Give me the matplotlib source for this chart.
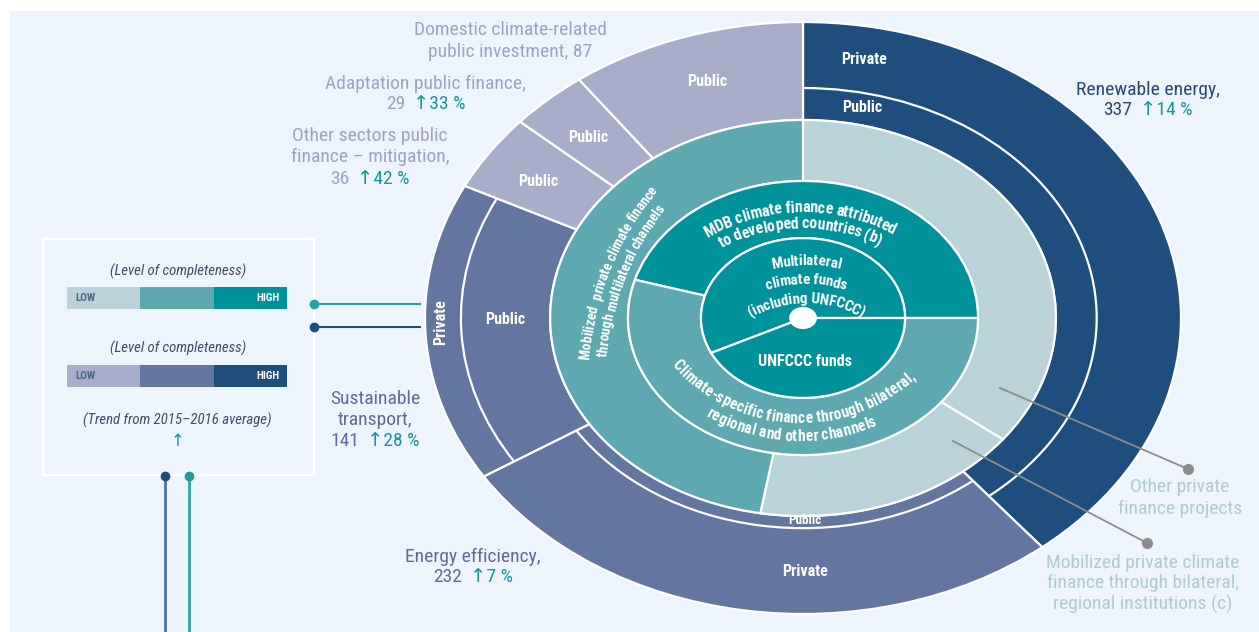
import numpy as np
import matplotlib
matplotlib.use("Agg")
import matplotlib.pyplot as plt
from matplotlib.patches import Rectangle, Arc, Ellipse
from matplotlib.font_manager import FontProperties, findfont, get_font


# Values (USD billion, trend from 2015-2016 average)
sectors = ["Renewable energy", "Energy efficiency", "Sustainable transport",
           "Other sectors public finance \u2013 mitigation", "Adaptation public finance",
           "Domestic climate-related public investment"]
sector_values = [337, 232, 141, 36, 29, 87]
sector_trend = ["14 %", "7 %", "28 %", "42 %", "33 %", None]

# middle ring: private finance channels (share of ring, %)
channel_labels = ["Other private finance projects",
                  "Mobilized private climate finance through bilateral, regional institutions (c)",
                  "Mobilized private climate finance through multilateral channels"]
channel_shares = [35.5, 17.2, 47.3]

# inner ring: international public finance (share of ring, %)
public_labels = ["MDB climate finance attributed to developed countries (b)",
                 "Climate-specific finance through bilateral, regional and other channels"]
public_shares = [45.5, 54.5]

# core: multilateral climate funds (share, %)
fund_labels = ["Multilateral climate funds (including UNFCCC)", "UNFCCC funds"]
fund_shares = [57.2, 42.8]


# colours
NAVY = "#1F4E7E"
SLATE = "#63769F"
LAV = "#A8AEC9"
LTEAL = "#B9D3D8"
MTEAL = "#5EA8AF"
DTEAL = "#00929A"
BG = "#EDF4FC"
TEAL_TXT = "#16979C"
sector_colors = [NAVY, SLATE, SLATE, LAV, LAV, LAV]
sector_txt = ["#2A4872", "#5D6C98", "#5D6C98", "#9DA3C1", "#9DA3C1", "#9DA3C1"]


def pick_font(names):
    for n in names:
        try:
            findfont(FontProperties(family=n), fallback_to_default=False)
            return n
        except ValueError:
            continue
    return "DejaVu Sans"


FONT = pick_font(["Liberation Sans Narrow", "Roboto Condensed", "Open Sans Condensed", "Lato"])
FAM = [FONT, "DejaVu Sans"]

W, H, DPI = 1259, 632, 100
CX, CY, RX, RY = 803, 318, 378, 296   # ellipse of the donut, pixels
PAD = 1.02

fig = plt.figure(figsize=(W / DPI, H / DPI), dpi=DPI, facecolor="white")
renderer = fig.canvas.get_renderer()

# background axes (pixel coords)
bg = fig.add_axes([0, 0, 1, 1])
bg.set_xlim(0, W)
bg.set_ylim(H, 0)
bg.set_axis_off()
bg.add_patch(Rectangle((10, 11), W - 10, H - 11, color=BG, lw=0))





# donut axes, stretched so circles become the ellipse
pax = fig.add_axes([(CX - RX * PAD) / W, (H - CY - RY * PAD) / H, 2 * RX * PAD / W, 2 * RY * PAD / H])
wp = dict(edgecolor="white", linewidth=1.6)

R_OUT, R_MID, R_IN, R_CORE = 1.0, 0.669, 0.463, 0.27
wedges, _ = pax.pie(sector_values, radius=R_OUT, colors=sector_colors, startangle=90,
                    counterclock=False, wedgeprops=dict(width=R_OUT - R_MID, **wp))

# private / public split inside the three sector rings
split_r = [0.777, 0.71, 0.905]
for w, r in zip(wedges, split_r):
    pax.add_patch(Arc((0, 0), 2 * r, 2 * r, theta1=w.theta1, theta2=w.theta2,
                      color="white", lw=1.6))

pax.pie(channel_shares, radius=R_MID, colors=[LTEAL, LTEAL, MTEAL], startangle=90,
        counterclock=False, wedgeprops=dict(width=R_MID - R_IN, **wp))
pax.pie(public_shares, radius=R_IN, colors=[DTEAL, MTEAL], startangle=0,
        counterclock=True, wedgeprops=dict(width=R_IN - R_CORE, **wp))
pax.pie(fund_shares, radius=R_CORE, colors=[DTEAL, DTEAL], startangle=0,
        counterclock=True, wedgeprops=wp)
pax.add_patch(Ellipse((0, 0), 0.07, 0.07, color="white"))

pax.set_aspect("auto")
pax.set_xlim(-PAD, PAD)
pax.set_ylim(-PAD, PAD)
pax.set_axis_off()





# overlay axes for text and lines (pixel coords)
tax = fig.add_axes([0, 0, 1, 1])
tax.set_xlim(0, W)
tax.set_ylim(H, 0)
tax.set_axis_off()
tax.patch.set_alpha(0)


def text_w(s, fs, weight="normal"):
    prop = FontProperties(family=FAM, size=fs, weight=weight)
    return renderer.get_text_width_height_descent(s, prop, ismath=False)[0]


def rich(x, y, parts, fs, weight="normal", gap=8):
    widths = [text_w(p, fs, weight) for p, _ in parts]
    xx = x - (sum(widths) + gap * (len(parts) - 1)) / 2
    for (p, c), w in zip(parts, widths):
        tax.text(xx, y, p, color=c, fontsize=fs, fontweight=weight, family=FAM,
                 ha="left", va="center")
        xx += w + gap


def arc_text(s, cx, cy, R, t_mid, fs, outward=True, color="white", weight="bold"):
    prop = FontProperties(family=FONT, size=fs, weight=weight)
    font = get_font(findfont(prop))
    font.set_size(fs, 72)
    adv = np.array([font.load_char(ord(ch)).linearHoriAdvance / 65536 for ch in s]) * DPI / 72
    d = np.cumsum(adv) - adv / 2 - adv.sum() / 2
    fs_px = fs * DPI / 72
    Rb = R - 0.33 * fs_px if outward else R + 0.33 * fs_px
    sgn = -1 if outward else 1
    for ch, di in zip(s, d):
        t = np.radians(t_mid) + sgn * di / R
        rot = np.degrees(t) - 90 if outward else np.degrees(t) + 90
        tax.text(cx + Rb * np.cos(t), cy - Rb * np.sin(t), ch, rotation=rot,
                 rotation_mode="anchor", ha="center", va="baseline", color=color,
                 fontsize=fs, fontweight=weight, family=FAM)


# labels inside the donut
lab = dict(color="white", fontsize=11.5, fontweight="bold", family=FAM, ha="center", va="center")
tax.text(864, 60, "Private", **lab)
tax.text(862, 108, "Public", **lab)
tax.text(707, 82, "Public", **lab)
tax.text(588, 137, "Public", **lab)
tax.text(538, 182, "Public", **lab)
tax.text(505, 319, "Public", **lab)
tax.text(441, 322, "Private", rotation=90, **lab)
tax.text(805, 571, "Private", **lab)
tax.text(805, 521, "Public", **{**lab, "fontsize": 9.5})
tax.text(805, 362, "UNFCCC funds", **lab)

arc_text("MDB climate finance attributed", 803, 404, 197, 91, 11.5)
arc_text("to developed countries (b)", 803, 404, 181, 91, 11.5)
arc_text("Multilateral", 806, 416, 156, 90, 11)
arc_text("climate funds", 806, 416, 137, 90, 11)
arc_text("(including UNFCCC)", 806, 416, 118, 90, 11)
arc_text("Climate-specific finance through bilateral,", 800, 251, 167, 267, 11.2, outward=False)
arc_text("regional and other channels", 800, 251, 185, 267, 11.2, outward=False)
arc_text("Mobilized  private climate finance", 893, 384, 309, 158, 10)
arc_text("through multilateral channels", 893, 384, 292, 158.5, 10)





# sector labels outside the donut
FS = 14
label_lines = [["Renewable energy,"], ["Energy efficiency,"], ["Sustainable", "transport,"],
               ["Other sectors public", "finance \u2013 mitigation,"],
               ["Adaptation public finance,"], ["Domestic climate-related"]]
label_x = [1148, 473, 375, 370, 426, 510]
label_y = [[90, 110], [557, 577], [399, 420, 441], [136, 157, 179], [84, 104], [30, 52]]

for i in range(len(sectors)):
    c = sector_txt[i]
    for y, line in zip(label_y[i], label_lines[i]):
        tax.text(label_x[i], y, line, color=c, fontsize=FS, family=FAM, ha="center", va="center")
    if sector_trend[i] is None:
        parts = [(f"public investment, {sector_values[i]}", c)]
    else:
        parts = [(f"{sector_values[i]}", c), ("\u2191" + sector_trend[i], TEAL_TXT)]
    rich(label_x[i], label_y[i][-1], parts, FS)

# private finance callouts
callout = "#AFCBD1"
tax.plot([1000, 1188], [388, 469], color="#8C8C8C", lw=1.3)
tax.plot([1188], [469], "o", color="#8C8C8C", ms=7)
tax.plot([953, 1147], [441, 543], color="#8C8C8C", lw=1.3)
tax.plot([1147], [543], "o", color="#8C8C8C", ms=7)
for y, line in zip([487, 509], ["Other private", "finance projects"]):
    tax.text(1180, y, line, color=callout, fontsize=FS, family=FAM, ha="center", va="center")
for y, line in zip([563, 583, 604], ["Mobilized private climate", "finance through bilateral,",
                                      "regional institutions (c)"]):
    tax.text(1143, y, line, color=callout, fontsize=FS, family=FAM, ha="center", va="center")





# legend box
tax.add_patch(Rectangle((43, 239), 271, 236, fill=False, ec="white", lw=1.5))
leg = dict(color="#454A66", fontsize=10.6, style="italic", family=FAM, ha="center", va="center")
tax.text(178, 271, "(Level of completeness)", **leg)
tax.text(178, 348, "(Level of completeness)", **leg)
tax.text(177, 420, "(Trend from 2015\u20132016 average)", **leg)
tax.text(178, 442, "\u2191", color=TEAL_TXT, fontsize=12, family=FAM, ha="center", va="center")

for top, cols in [(287, [LTEAL, MTEAL, DTEAL]), (365, [LAV, SLATE, NAVY])]:
    for k, col in enumerate(cols):
        tax.add_patch(Rectangle((67 + k * 73.3, top), 73.3, 22, color=col, lw=0))
    tax.text(75, top + 11, "LOW", color="#4E6A82", fontsize=8, fontweight="bold",
             family=FAM, ha="left", va="center")
    tax.text(280, top + 11, "HIGH", color="white", fontsize=8, fontweight="bold",
             family=FAM, ha="right", va="center")

# connector lines
tax.plot([314, 420], [304, 304], color="#2AA0A4", lw=1.5)
tax.plot([314], [304], "o", color="#2AA0A4", ms=6)
tax.plot([314, 420], [327, 327], color=NAVY, lw=1.5)
tax.plot([314], [327], "o", color=NAVY, ms=6)
tax.plot([165, 165], [476, H], color="#4C74A0", lw=2)
tax.plot([165], [476], "o", color=NAVY, ms=6)
tax.plot([189, 189], [476, H], color="#2FA5A8", lw=2)
tax.plot([189], [476], "o", color="#1E9CA0", ms=6)

fig.savefig("out.png", dpi=DPI, facecolor="white")
